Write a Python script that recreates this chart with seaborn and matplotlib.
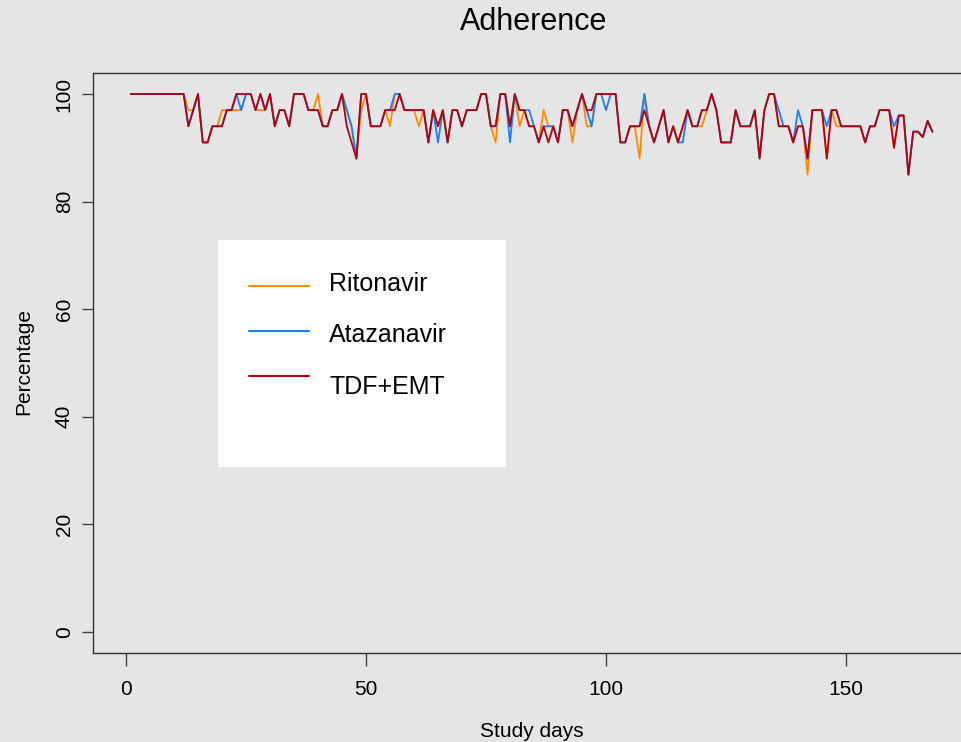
import matplotlib
matplotlib.use("Agg")
import matplotlib.pyplot as plt
from matplotlib.patches import Rectangle
from matplotlib.lines import Line2D
import pandas as pd
import seaborn as sns

# Daily adherence (%) per drug over the study period
days = list(range(1, 169))

ritonavir = [
    100, 100, 100, 100, 100, 100, 100, 100, 100, 100, 100, 100,
    97, 97, 100, 91, 91, 94, 94, 97, 97, 97, 97, 97,
    100, 100, 97, 97, 97, 100, 94, 97, 97, 94, 100, 100,
    100, 97, 97, 100, 94, 94, 97, 97, 100, 97, 94, 88,
    97, 100, 94, 94, 94, 97, 94, 100, 100, 97, 97, 97,
    94, 97, 91, 97, 94, 97, 91, 97, 97, 94, 97, 97,
    97, 100, 100, 94, 91, 100, 100, 94, 100, 94, 97, 94,
    94, 91, 97, 94, 94, 91, 97, 97, 91, 97, 100, 94,
    94, 100, 100, 100, 100, 100, 91, 91, 94, 94, 88, 100,
    94, 91, 94, 97, 91, 94, 91, 94, 97, 94, 94, 94,
    97, 100, 97, 91, 91, 91, 97, 94, 94, 94, 97, 88,
    97, 100, 100, 94, 94, 94, 91, 94, 94, 85, 97, 97,
    97, 88, 97, 94, 94, 94, 94, 94, 94, 91, 94, 94,
    97, 97, 97, 90, 96, 96, 85, 93, 93, 92, 95, 93,
]

atazanavir = [
    100, 100, 100, 100, 100, 100, 100, 100, 100, 100, 100, 100,
    94, 97, 100, 91, 91, 94, 94, 94, 97, 97, 100, 97,
    100, 100, 97, 100, 97, 100, 94, 97, 97, 94, 100, 100,
    100, 97, 97, 97, 94, 94, 97, 97, 100, 97, 94, 88,
    100, 100, 94, 94, 94, 97, 97, 100, 100, 97, 97, 97,
    97, 97, 91, 97, 91, 97, 91, 97, 97, 94, 97, 97,
    97, 100, 100, 94, 94, 100, 100, 91, 100, 97, 97, 97,
    94, 91, 94, 94, 94, 91, 97, 97, 94, 97, 100, 97,
    94, 100, 100, 97, 100, 100, 91, 91, 94, 94, 94, 100,
    94, 91, 94, 97, 91, 94, 91, 91, 97, 94, 94, 97,
    97, 100, 97, 91, 91, 91, 97, 94, 94, 94, 97, 88,
    97, 100, 100, 97, 94, 94, 91, 97, 94, 88, 97, 97,
    97, 94, 97, 97, 94, 94, 94, 94, 94, 91, 94, 94,
    97, 97, 97, 94, 96, 96, 85, 93, 93, 92, 95, 93,
]

tdf_emt = [
    100, 100, 100, 100, 100, 100, 100, 100, 100, 100, 100, 100,
    94, 97, 100, 91, 91, 94, 94, 94, 97, 97, 100, 100,
    100, 100, 97, 100, 97, 100, 94, 97, 97, 94, 100, 100,
    100, 97, 97, 97, 94, 94, 97, 97, 100, 94, 91, 88,
    100, 100, 94, 94, 94, 97, 97, 97, 100, 97, 97, 97,
    97, 97, 91, 97, 94, 97, 91, 97, 97, 94, 97, 97,
    97, 100, 100, 94, 94, 100, 100, 94, 100, 97, 97, 94,
    94, 91, 94, 91, 94, 91, 97, 97, 94, 97, 100, 97,
    97, 100, 100, 100, 100, 100, 91, 91, 94, 94, 94, 97,
    94, 91, 94, 97, 91, 94, 91, 94, 97, 94, 94, 97,
    97, 100, 97, 91, 91, 91, 97, 94, 94, 94, 97, 88,
    97, 100, 100, 94, 94, 94, 91, 94, 94, 88, 97, 97,
    97, 88, 97, 97, 94, 94, 94, 94, 94, 91, 94, 94,
    97, 97, 97, 90, 96, 96, 85, 93, 93, 92, 95, 93,
]

drug_names = ["Ritonavir", "Atazanavir", "TDF+EMT"]
drug_colors = ["#FF8C00", "#1A80F5", "#B00012"]
x_ticks = [0, 50, 100, 150]
y_ticks = [0, 20, 40, 60, 80, 100]

df = pd.concat([
    pd.DataFrame({"day": days, "pct": vals, "drug": name})
    for name, vals in zip(drug_names, [ritonavir, atazanavir, tdf_emt])
], ignore_index=True)

sns.set_theme(style="white")
plt.rcParams["font.family"] = ["Liberation Sans", "DejaVu Sans"]

W, H = 961, 742
BG = "#E5E5E5"
INK = "#000000"
fig = plt.figure(figsize=(W / 100, H / 100), dpi=100, facecolor=BG)


def fx(px):
    return px / W


def fy(py):
    return 1 - py / H


left, right, top, bottom = 93.3, 961.0, 72.7, 653.3
ax = fig.add_axes([fx(left), fy(bottom), fx(right - left), (bottom - top) / H])
ax.set_facecolor(BG)

sns.lineplot(
    data=df, x="day", y="pct", hue="drug", hue_order=drug_names,
    palette=dict(zip(drug_names, drug_colors)), estimator=None,
    linewidth=1.3, legend=False, ax=ax,
)

ax.set_xlim(-6.81, 173.96)
ax.set_ylim(-3.96, 103.96)
ax.set_xticks(x_ticks)
ax.set_yticks(y_ticks)
ax.set_xticklabels([str(t) for t in x_ticks], fontsize=15, color=INK)
ax.set_yticklabels([str(t) for t in y_ticks], fontsize=15, color=INK,
                   rotation=90, va="center")
ax.tick_params(axis="x", direction="out", length=9.4, width=1.0,
               color="#444444", pad=10, bottom=True)
ax.tick_params(axis="y", direction="out", length=8, width=1.0,
               color="#444444", pad=6, left=True)
ax.set_xlabel("")
ax.set_ylabel("")
for side in ("left", "top", "bottom"):
    ax.spines[side].set_visible(True)
    ax.spines[side].set_color("#333333")
    ax.spines[side].set_linewidth(1.0)
ax.spines["right"].set_visible(False)

# Titles
fig.text(fx(534), fy(30), "Adherence", fontsize=22, ha="center",
         va="baseline", color=INK)
fig.text(fx(532), fy(737), "Study days", fontsize=15, ha="center",
         va="baseline", color=INK)
fig.text(fx(24), fy(362), "Percentage", fontsize=15, ha="center",
         va="center", rotation=90, color=INK)

# Legend box
fig.patches.append(Rectangle((fx(218), fy(467)), fx(506 - 218), (467 - 240) / H,
                             transform=fig.transFigure, facecolor="white",
                             edgecolor="none", zorder=5))
line_ys = [286, 331, 376]
text_ys = [291, 341.7, 394]
for name, color, ly, ty in zip(drug_names, drug_colors, line_ys, text_ys):
    fig.lines.append(Line2D([fx(249), fx(309)], [fy(ly), fy(ly)],
                            transform=fig.transFigure, color=color,
                            linewidth=1.5, zorder=6))
    fig.text(fx(329), fy(ty), name, fontsize=18, ha="left", va="baseline",
             color=INK, zorder=6)

fig.savefig("out.png", dpi=100, facecolor=BG)
